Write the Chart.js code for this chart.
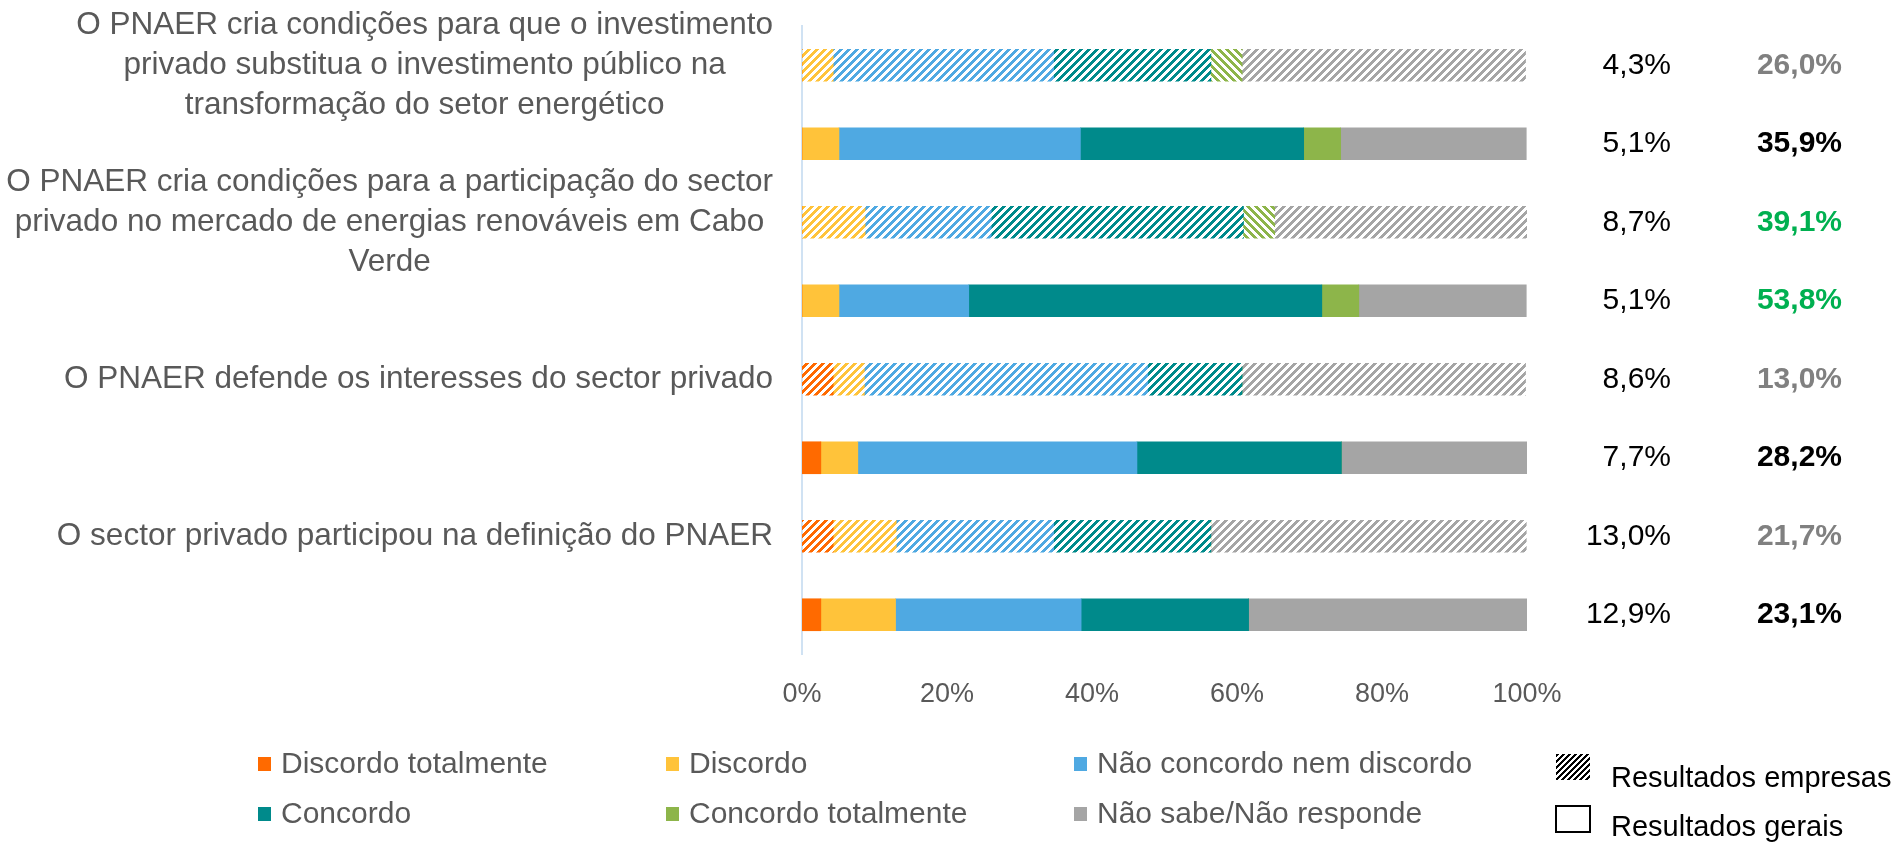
<!DOCTYPE html>
<html lang="pt">
<head>
<meta charset="utf-8">
<title>PNAER e o sector privado</title>
<script src="https://cdn.jsdelivr.net/npm/chart.js@4.4.1/dist/chart.umd.min.js"></script>
<style>
  html, body { margin: 0; padding: 0; background: #fff; }
</style>
</head>
<body>
<canvas id="chart" width="1899" height="842"></canvas>
<script>
// categorias: linha "empresas" (tracejado) seguida da linha "gerais" (sólido)
const statements = [
    ['O PNAER cria condições para que o investimento', 'privado substitua o investimento público na', 'transformação do setor energético'],
    '',
    ['O PNAER cria condições para a participação do sector', 'privado no mercado de energias renováveis em Cabo', 'Verde'],
    '',
    'O PNAER defende os interesses do sector privado',
    '',
    'O sector privado participou na definição do PNAER',
    ''
];

const seriesNames = ['Discordo totalmente', 'Discordo', 'Não concordo nem discordo', 'Concordo', 'Concordo totalmente', 'Não sabe/Não responde'];

const discordoTotalmente = [0, 0, 0, 0, 4.3, 2.6, 4.3, 2.6];
const discordo = [4.3, 5.1, 8.7, 5.1, 4.3, 5.1, 8.7, 10.3];
const neutro = [30.4, 33.3, 17.4, 17.9, 39.1, 38.5, 21.7, 25.6];
const concordo = [21.7, 30.8, 34.8, 48.7, 13.0, 28.2, 21.7, 23.1];
const concordoTotalmente = [4.3, 5.1, 4.3, 5.1, 0, 0, 0, 0];
const naoSabe = [39.1, 25.6, 34.8, 23.1, 39.1, 25.6, 43.5, 38.5];

// totais mostrados à direita
const disagreeTotals = [4.3, 5.1, 8.7, 5.1, 8.6, 7.7, 13.0, 12.9];
const agreeTotals = [26.0, 35.9, 39.1, 53.8, 13.0, 28.2, 21.7, 23.1];

const xTicks = { min: 0, max: 100, step: 20 };

const seriesColors = ['#ff6a00', '#ffc33a', '#4fa9e2', '#008a8b', '#8db54a', '#a5a5a5'];
const labelFont = '"Liberation Sans", Arial, sans-serif';
const gray = '#595959';

function makeHatch(color, reverse, period, on) {
    const c = document.createElement('canvas');
    c.width = period;
    c.height = period;
    const g = c.getContext('2d');
    g.fillStyle = color;
    for (let y = 0; y < period; y++) {
        for (let x = 0; x < period; x++) {
            const k = reverse ? (x - y + period) % period : (x + y) % period;
            if (k < on) g.fillRect(x, y, 1, 1);
        }
    }
    return g.createPattern(c, 'repeat');
}

function fmt(v) {
    return v.toFixed(1).replace('.', ',') + '%';
}

const seriesData = [discordoTotalmente, discordo, neutro, concordo, concordoTotalmente, naoSabe];

const datasets = seriesData.map((values, s) => {
    const hatch = makeHatch(seriesColors[s], s === 4, 8, 4);
    return {
        label: seriesNames[s],
        data: values,
        backgroundColor: values.map((v, i) => (i % 2 === 0 ? hatch : seriesColors[s])),
        borderWidth: 0,
        barThickness: 32
    };
});

// rótulos das afirmações: cada bloco centrado em si e encostado à direita
const statementLabels = {
    id: 'statementLabels',
    afterDraw(chart) {
        const { ctx, chartArea } = chart;
        const yScale = chart.scales.y;
        const lineHeight = 40;
        const rightEdge = chartArea.left - 29;
        ctx.save();
        ctx.font = '31.5px ' + labelFont;
        ctx.fillStyle = gray;
        ctx.textAlign = 'center';
        ctx.textBaseline = 'middle';
        yScale.getLabels().forEach((label, i) => {
            const lines = Array.isArray(label) ? label : [label];
            if (!lines[0]) return;
            const w = Math.max(...lines.map(l => ctx.measureText(l).width));
            const cx = rightEdge - w / 2;
            const y0 = yScale.getPixelForValue(i) - (lines.length - 1) * lineHeight / 2;
            lines.forEach((l, k) => ctx.fillText(l, cx, y0 + k * lineHeight));
        });
        ctx.restore();
    }
};

const sidePlugin = {
    id: 'sideTotals',
    afterDraw(chart) {
        const { ctx, chartArea } = chart;
        const yScale = chart.scales.y;
        ctx.save();
        ctx.textAlign = 'right';
        ctx.textBaseline = 'middle';
        disagreeTotals.forEach((v, i) => {
            const y = yScale.getPixelForValue(i);
            ctx.font = '30px ' + labelFont;
            ctx.fillStyle = '#000';
            ctx.fillText(fmt(v), chartArea.right + 144, y);

            const stmt = Math.floor(i / 2);
            let color = i % 2 === 0 ? '#808080' : '#000';
            if (stmt === 1) color = '#00b050';
            ctx.font = 'bold 30px ' + labelFont;
            ctx.fillStyle = color;
            ctx.fillText(fmt(agreeTotals[i]), chartArea.right + 315, y);
        });
        ctx.restore();
    }
};

const legendPlugin = {
    id: 'bottomLegend',
    afterDraw(chart) {
        const ctx = chart.ctx;
        const colX = [258, 666, 1074];
        const rowY = [764, 814];
        ctx.save();
        ctx.textAlign = 'left';
        ctx.textBaseline = 'middle';
        ctx.font = '30px ' + labelFont;
        seriesNames.forEach((name, i) => {
            const x = colX[i % 3];
            const y = rowY[Math.floor(i / 3)];
            ctx.fillStyle = seriesColors[i];
            ctx.fillRect(x, y - 7, 13, 14);
            ctx.fillStyle = gray;
            ctx.fillText(name, x + 23, y + 1);
        });

        // chave tracejado / sólido
        ctx.fillStyle = makeHatch('#000', false, 6, 3);
        ctx.fillRect(1556, 754, 34, 26);
        ctx.strokeStyle = '#000';
        ctx.lineWidth = 2;
        ctx.strokeRect(1556, 806, 34, 26);
        ctx.fillStyle = '#000';
        ctx.font = '29px ' + labelFont;
        ctx.fillText('Resultados empresas', 1611, 779);
        ctx.fillText('Resultados gerais', 1611, 828);
        ctx.restore();
    }
};

new Chart(document.getElementById('chart').getContext('2d'), {
    type: 'bar',
    data: {
        labels: statements,
        datasets: datasets
    },
    options: {
        indexAxis: 'y',
        responsive: false,
        animation: false,
        layout: {
            padding: { top: 26, right: 372, bottom: 128, left: 0 }
        },
        plugins: {
            legend: { display: false },
            tooltip: { enabled: false }
        },
        scales: {
            x: {
                stacked: true,
                min: xTicks.min,
                max: xTicks.max,
                grid: { display: false, drawTicks: false },
                border: { display: false },
                ticks: {
                    stepSize: xTicks.step,
                    callback: v => v + '%',
                    color: gray,
                    padding: 24,
                    font: { family: labelFont, size: 27 }
                },
                afterFit: s => { s.height = 60; }
            },
            y: {
                stacked: true,
                grid: { display: false, drawTicks: false },
                border: { display: true, color: '#d0e2f3', width: 2 },
                ticks: { display: false },
                afterFit: s => {
                    s.width = 802;
                    s.paddingTop = 0;
                    s.paddingBottom = 0;
                }
            }
        }
    },
    plugins: [statementLabels, sidePlugin, legendPlugin]
});
</script>
</body>
</html>
